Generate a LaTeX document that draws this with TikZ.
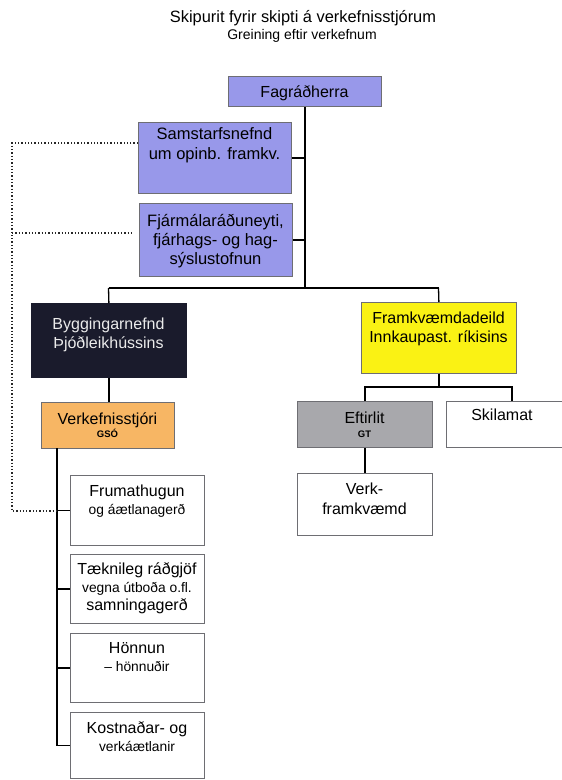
\documentclass[tikz,border=0pt]{standalone}
\usepackage{fontspec}
\setmainfont{Liberation Sans}
\definecolor{blu}{RGB}{152,152,234}
\definecolor{orng}{RGB}{247,182,100}
\definecolor{yel}{RGB}{250,242,20}
\definecolor{gry}{RGB}{168,168,172}
\definecolor{navy}{RGB}{26,27,44}
\definecolor{edge}{RGB}{110,110,115}
\begin{document}
\begin{tikzpicture}[x=1pt,y=-1pt,
  box/.style={draw=edge, line width=0.8pt, rectangle, inner sep=0pt, anchor=north west},
  conn/.style={line width=1.3pt, black},
  dots/.style={dotted, line width=1.3pt, black!85},
  ln/.style={anchor=base, inner sep=0pt, font=\fontsize{16}{19}\selectfont},
  lnb/.style={anchor=base, inner sep=0pt, font=\fontsize{16.5}{19}\selectfont},
  sm/.style={anchor=base, inner sep=0pt, font=\fontsize{13.8}{16}\selectfont},
  tiny/.style={anchor=base, inner sep=0pt, font=\fontsize{9.5}{11}\selectfont\bfseries},
  ttl/.style={anchor=base, inner sep=0pt, font=\fontsize{16.4}{19}\selectfont},
  sub/.style={anchor=base, inner sep=0pt, font=\fontsize{14}{16}\selectfont}]
\useasboundingbox (0,0) rectangle (562,780);
\clip (0,0) rectangle (562,780);

% title
\node[ttl] (title) at (303,22.7) {Skipurit fyrir skipti á verkefnisstjórum};
\node[sub] (subtitle) at (302,39.3) {Greining eftir verkefnum};

% boxes
\node[box, fill=blu, minimum width=153pt, minimum height=30pt] (fag) at (228,76) {};
\node[box, fill=blu, minimum width=153pt, minimum height=71pt] (sam) at (138,122) {};
\node[box, fill=blu, minimum width=153pt, minimum height=73pt] (fjar) at (139,203) {};
\node[box, fill=navy, draw=navy, minimum width=155pt, minimum height=74pt] (byg) at (31,303) {};
\node[box, fill=orng, minimum width=133pt, minimum height=46pt] (verk) at (41,402) {};
\node[box, fill=yel, minimum width=155pt, minimum height=71pt] (fram) at (361,302) {};
\node[box, fill=gry, minimum width=135pt, minimum height=46pt] (eft) at (297,401) {};
\node[box, fill=white, minimum width=120pt, minimum height=46pt] (skil) at (446,401) {};
\node[box, fill=white, minimum width=135pt, minimum height=62pt] (vfk) at (297,473) {};
\node[box, fill=white, minimum width=134pt, minimum height=70pt] (fru) at (70,475) {};
\node[box, fill=white, minimum width=134pt, minimum height=69pt] (tae) at (70,554) {};
\node[box, fill=white, minimum width=134pt, minimum height=69pt] (hon) at (70,633) {};
\node[box, fill=white, minimum width=134pt, minimum height=66pt] (kos) at (70,712) {};

% texts
\node[ln] (fagT) at (304.5,97.5) {Fagráðherra};
\node[lnb] (samT1) at (214.5,139.3) {Samstarfsnefnd};
\node[lnb] (samT2) at (214.5,159.3) {um opinb. framkv.};
\node[lnb] (fjT1) at (215.5,226) {Fjármálaráðuneyti,};
\node[lnb] (fjT2) at (215.5,245.5) {fjárhags- og hag-};
\node[lnb] (fjT3) at (215.5,264.5) {sýslustofnun};
\node[ln, text=white!92!black] (bygT1) at (108.5,329) {Byggingarnefnd};
\node[ln, text=white!92!black] (bygT2) at (108.5,348) {Þjóðleikhússins};
\node[ln] (verkT1) at (107.5,424) {Verkefnisstjóri};
\node[tiny] (verkT2) at (107.5,437) {GSÓ};
\node[ln] (framT1) at (438.5,323.3) {Framkvæmdadeild};
\node[ln] (framT2) at (438.5,342.7) {Innkaupast. ríkisins};
\node[ln] (eftT1) at (364.5,423.3) {Eftirlit};
\node[tiny] (eftT2) at (364.5,437) {GT};
\node[ln] (skilT) at (502,420.7) {Skilamat};
\node[ln] (vfkT1) at (364.5,494.3) {Verk-};
\node[ln] (vfkT2) at (364.5,514) {framkvæmd};
\node[ln] (fruT1) at (137,496) {Frumathugun};
\node[sm] (fruT2) at (137,514.3) {og áætlanagerð};
\node[ln] (taeT1) at (137,574.3) {Tæknileg ráðgjöf};
\node[sm] (taeT2) at (137,592.7) {vegna útboða o.fl.};
\node[ln] (taeT3) at (137,610) {samningagerð};
\node[ln] (honT1) at (137,653.3) {Hönnun};
\node[sm] (honT2) at (137,671.7) {-- hönnuðir};
\node[ln] (kosT1) at (137,733.3) {Kostnaðar- og};
\node[sm] (kosT2) at (137,751) {verkáætlanir};

% connectors (top tree)
\coordinate (barL) at (108.5,288);
\coordinate (barR) at (438.5,288);
\draw[conn] (barL) -- (barR);
\draw[conn] (fag.south) -- (fag.south |- barL);
\draw[conn] (sam.east) -- (fag.south |- sam.east);
\draw[conn] (fjar.east) -- (fag.south |- fjar.east);
\draw[conn] (barL) -- (byg.north);
\draw[conn] (barR) -- (fram.north);
\draw[conn] (byg.south) -- (byg.south |- verk.north);

% left list
\coordinate (lvTop) at (57,448);
\draw[conn] (lvTop) |- (kos.west);
\draw[conn] (lvTop |- fru.west) -- (fru.west);
\draw[conn] (lvTop |- tae.west) -- (tae.west);
\draw[conn] (lvTop |- hon.west) -- (hon.west);

% right branch
\coordinate (rbR) at (512,387);
\draw[conn] (fram.south) -- (fram.south |- rbR);
\draw[conn] (eft.north) |- (rbR) -- (rbR |- skil.north);
\draw[conn] (eft.south) -- (vfk.north);

% dotted links
\coordinate (d1) at (12,143);
\coordinate (d2) at (12,233);
\coordinate (d2e) at (131,233);
\coordinate (d3) at (12,511);
\draw[dots] (d1 -| sam.west) -- (d1) -- (d3) -- (d3 -| lvTop);
\draw[dots] (d2) -- (d2e);
\end{tikzpicture}
\end{document}
